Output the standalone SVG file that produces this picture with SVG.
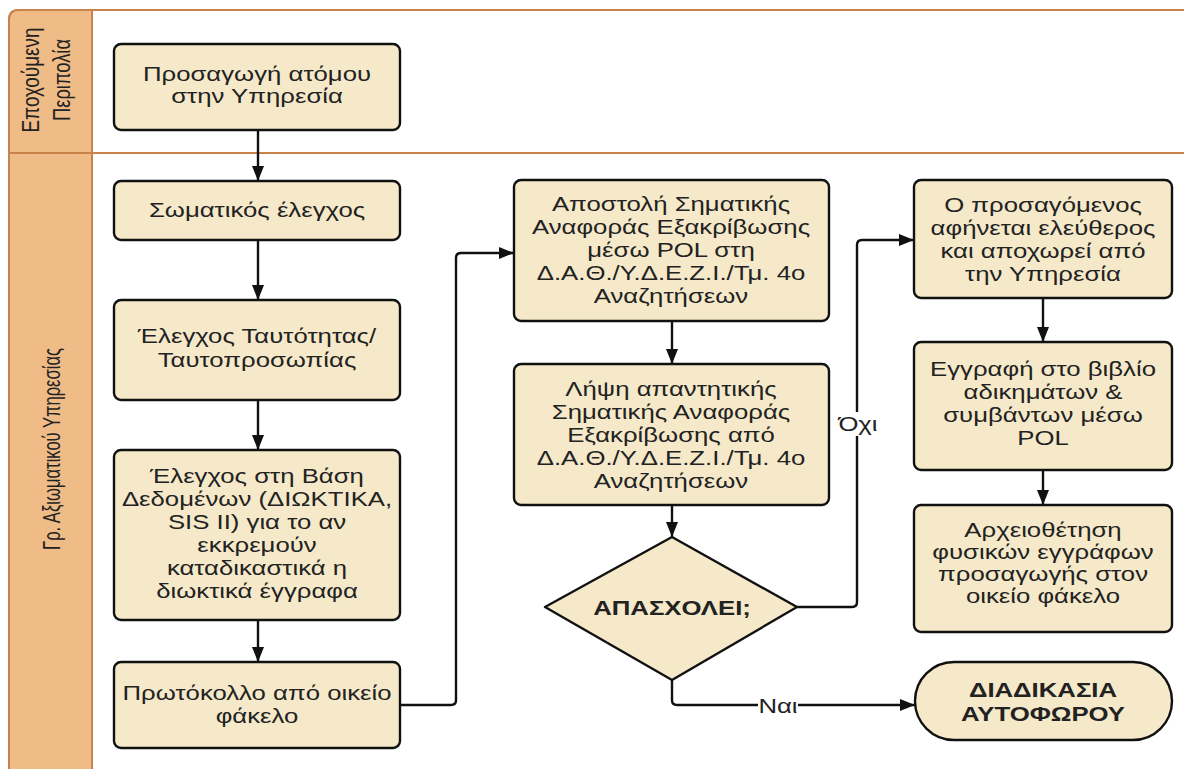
<svg xmlns="http://www.w3.org/2000/svg" width="1184" height="769" viewBox="0 0 1184 769">
  <style>
    .lane { fill: #ffffff; stroke: #c8834a; stroke-width: 2; }
    .head { fill: #efbb87; stroke: #c8834a; stroke-width: 2; }
    .box { fill: #f5e9c9; stroke: #111111; stroke-width: 2.4; }
    .txt { font-family: "Liberation Sans", Arial, sans-serif; font-size: 19.5px; fill: #222222; text-anchor: middle; }
    .bold { font-weight: bold; }
    .lanetxt { font-family: "Liberation Sans Narrow", "Liberation Sans", sans-serif; font-size: 23px; fill: #222222; text-anchor: middle; }
    .edge { fill: none; stroke: #111111; stroke-width: 2.4; stroke-linejoin: round; }
  </style>
  <defs>
    <marker id="arrow" viewBox="0 0 15 12" refX="15" refY="6" markerWidth="15" markerHeight="12" markerUnits="userSpaceOnUse" orient="auto">
      <path d="M0,0 L15,6 L0,12 Z" fill="#111111"/>
    </marker>
  </defs>

  <rect width="1184" height="769" fill="#ffffff"/>

  <!-- Swimlanes -->
  <g id="pool">
    <path class="lane" d="M9,780 V20 Q9,10 19,10 H1200 V780 Z"/>
    <path class="head" d="M9,780 V20 Q9,10 19,10 H92 V780 Z"/>
    <line x1="9" y1="153" x2="1200" y2="153" stroke="#c8834a" stroke-width="2"/>
    <text class="lanetxt" transform="translate(39,80) rotate(-90)" textLength="105" lengthAdjust="spacingAndGlyphs">Εποχούμενη</text>
    <text class="lanetxt" transform="translate(70,80) rotate(-90)" textLength="82" lengthAdjust="spacingAndGlyphs">Περιπολία</text>
    <text class="lanetxt" transform="translate(60,449) rotate(-90)" textLength="202" lengthAdjust="spacingAndGlyphs">Γρ. Αξιωματικού Υπηρεσίας</text>
  </g>

  <!-- Connectors -->
  <g id="connectors">
    <path class="edge" d="M258,130 V181" marker-end="url(#arrow)"/>
    <path class="edge" d="M258,240 V300" marker-end="url(#arrow)"/>
    <path class="edge" d="M258,400 V450" marker-end="url(#arrow)"/>
    <path class="edge" d="M258,620 V662" marker-end="url(#arrow)"/>
    <path class="edge" d="M400,705 H451 Q456,705 456,700 V258 Q456,253 461,253 H514" marker-end="url(#arrow)"/>
    <path class="edge" d="M672,321 V364" marker-end="url(#arrow)"/>
    <path class="edge" d="M672,505 V537" marker-end="url(#arrow)"/>
    <path class="edge" d="M797,607 H852 Q857,607 857,602 V245 Q857,240 862,240 H914" marker-end="url(#arrow)"/>
    <path class="edge" d="M672,680 V700 Q672,705 677,705 H915" marker-end="url(#arrow)"/>
    <path class="edge" d="M1043,298 V342" marker-end="url(#arrow)"/>
    <path class="edge" d="M1043,470 V505" marker-end="url(#arrow)"/>
    <rect x="840" y="412" width="36" height="24" fill="#ffffff"/>
    <text class="txt" transform="translate(858,431) scale(1.32,1)">Όχι</text>
    <rect x="758" y="696" width="40" height="20" fill="#ffffff"/>
    <text class="txt" transform="translate(778,713) scale(1.32,1)">Ναι</text>
  </g>

  <!-- Nodes -->
  <g id="n1">
    <rect class="box" x="114" y="44" width="286" height="86" rx="7"/>
    <g transform="translate(257,0) scale(1.32,1)">
      <text class="txt" x="0" y="81">Προσαγωγή ατόμου</text>
      <text class="txt" x="0" y="103">στην Υπηρεσία</text>
    </g>
  </g>
  <g id="n2">
    <rect class="box" x="114" y="181" width="286" height="59" rx="7"/>
    <g transform="translate(257,0) scale(1.32,1)">
      <text class="txt" x="0" y="217">Σωματικός έλεγχος</text>
    </g>
  </g>
  <g id="n3">
    <rect class="box" x="114" y="300" width="286" height="100" rx="7"/>
    <g transform="translate(257,0) scale(1.32,1)">
      <text class="txt" x="0" y="343">Έλεγχος Ταυτότητας/</text>
      <text class="txt" x="0" y="367">Ταυτοπροσωπίας</text>
    </g>
  </g>
  <g id="n4">
    <rect class="box" x="114" y="450" width="286" height="170" rx="7"/>
    <g transform="translate(257,0) scale(1.32,1)">
      <text class="txt" x="0" y="483">Έλεγχος στη Βάση</text>
      <text class="txt" x="0" y="506">Δεδομένων (ΔΙΩΚΤΙΚΑ,</text>
      <text class="txt" x="0" y="529">SIS II) για το αν</text>
      <text class="txt" x="0" y="552">εκκρεμούν</text>
      <text class="txt" x="0" y="575">καταδικαστικά η</text>
      <text class="txt" x="0" y="598">διωκτικά έγγραφα</text>
    </g>
  </g>
  <g id="n5">
    <rect class="box" x="114" y="662" width="286" height="86" rx="7"/>
    <g transform="translate(257,0) scale(1.32,1)">
      <text class="txt" x="0" y="700">Πρωτόκολλο από οικείο</text>
      <text class="txt" x="0" y="723">φάκελο</text>
    </g>
  </g>
  <g id="n6">
    <rect class="box" x="514" y="180" width="315" height="141" rx="7"/>
    <g transform="translate(671,0) scale(1.32,1)">
      <text class="txt" x="0" y="211">Αποστολή Σηματικής</text>
      <text class="txt" x="0" y="234">Αναφοράς Εξακρίβωσης</text>
      <text class="txt" x="0" y="257">μέσω POL  στη</text>
      <text class="txt" x="0" y="280">Δ.Α.Θ./Υ.Δ.Ε.Ζ.Ι./Τμ. 4ο</text>
      <text class="txt" x="0" y="303">Αναζητήσεων</text>
    </g>
  </g>
  <g id="n7">
    <rect class="box" x="514" y="364" width="315" height="141" rx="7"/>
    <g transform="translate(671,0) scale(1.32,1)">
      <text class="txt" x="0" y="396">Λήψη απαντητικής</text>
      <text class="txt" x="0" y="419">Σηματικής Αναφοράς</text>
      <text class="txt" x="0" y="442">Εξακρίβωσης από</text>
      <text class="txt" x="0" y="465">Δ.Α.Θ./Υ.Δ.Ε.Ζ.Ι./Τμ. 4ο</text>
      <text class="txt" x="0" y="488">Αναζητήσεων</text>
    </g>
  </g>
  <g id="n8">
    <path class="box" d="M672,537 L797,607 L672,680 L545,607 Z" stroke-linejoin="round"/>
    <text class="txt bold" transform="translate(672,615) scale(1.32,1)">ΑΠΑΣΧΟΛΕΙ;</text>
  </g>
  <g id="n9">
    <rect class="box" x="914" y="180" width="258" height="118" rx="7"/>
    <g transform="translate(1043,0) scale(1.32,1)">
      <text class="txt" x="0" y="212">Ο προσαγόμενος</text>
      <text class="txt" x="0" y="235">αφήνεται ελεύθερος</text>
      <text class="txt" x="0" y="258">και αποχωρεί από</text>
      <text class="txt" x="0" y="281">την Υπηρεσία</text>
    </g>
  </g>
  <g id="n10">
    <rect class="box" x="914" y="342" width="258" height="128" rx="7"/>
    <g transform="translate(1043,0) scale(1.32,1)">
      <text class="txt" x="0" y="376">Εγγραφή στο βιβλίο</text>
      <text class="txt" x="0" y="399">αδικημάτων &amp;</text>
      <text class="txt" x="0" y="422">συμβάντων μέσω</text>
      <text class="txt" x="0" y="445">POL</text>
    </g>
  </g>
  <g id="n11">
    <rect class="box" x="914" y="505" width="258" height="127" rx="7"/>
    <g transform="translate(1043,0) scale(1.32,1)">
      <text class="txt" x="0" y="537">Αρχειοθέτηση</text>
      <text class="txt" x="0" y="559">φυσικών εγγράφων</text>
      <text class="txt" x="0" y="581">προσαγωγής στον</text>
      <text class="txt" x="0" y="603">οικείο φάκελο</text>
    </g>
  </g>
  <g id="n12">
    <rect class="box" x="915" y="662" width="257" height="78" rx="39"/>
    <g transform="translate(1043,0) scale(1.32,1)">
      <text class="txt bold" x="0" y="697">ΔΙΑΔΙΚΑΣΙΑ</text>
      <text class="txt bold" x="0" y="721">ΑΥΤΟΦΩΡΟΥ</text>
    </g>
  </g>
</svg>
